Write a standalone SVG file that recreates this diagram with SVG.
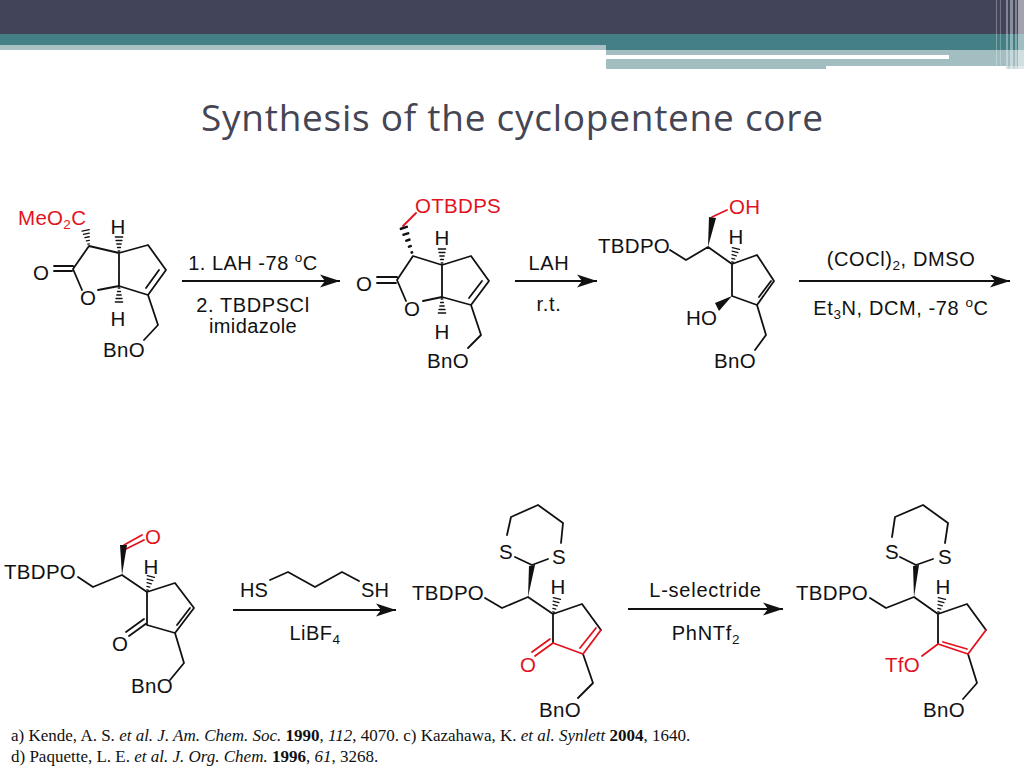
<svg xmlns="http://www.w3.org/2000/svg" xmlns:xlink="http://www.w3.org/1999/xlink" width="1024" height="768" viewBox="0 0 1024 768">
<style>
.b{fill:none;stroke:#111;stroke-width:1.8;stroke-linecap:round;stroke-linejoin:round}
.r{fill:none;stroke:#e2131f;stroke-width:1.8;stroke-linecap:round;stroke-linejoin:round}
.w{fill:#111;stroke:none}
.a{fill:none;stroke:#111;stroke-width:1.8}
.t{font-family:"Liberation Sans",Arial,sans-serif;font-size:20.5px;letter-spacing:.3px;fill:#111}
.g{font-family:"Liberation Sans",Arial,sans-serif;font-size:20px;fill:#111;text-anchor:middle}
.rt{fill:#e2131f}
.m{text-anchor:middle}
.ref{font-family:"Liberation Serif","Times New Roman",serif;font-size:17px;fill:#111}
.title{font-family:"Open Sans","Noto Sans",sans-serif;font-size:37px;fill:#454553}
</style>
<defs>
<g id="hash" class="b" style="stroke-width:1.3">
<path d="M2 -.8V.8M5.500 -1.500V1.500M9 -2.200V2.200M12.500 -3V3M16 -3.700V3.700"/>
</g>
<marker id="ah" markerUnits="userSpaceOnUse" markerWidth="21" markerHeight="14" refX="20" refY="7" orient="auto"><path d="M0 0.500L20 7L0 13.500L5 7Z" fill="#111"/></marker>
</defs>

<g id="header">
<rect x="0" y="0" width="1024" height="34" fill="#42445a"/>
<rect x="0" y="34" width="1024" height="11" fill="#437f85"/>
<rect x="606" y="45" width="418" height="5" fill="#437f85"/>
<rect x="0" y="45" width="606" height="5" fill="#a9c1c4"/>
<rect x="606" y="50" width="418" height="16" fill="#a3bec1"/>
<rect x="606" y="66" width="220" height="3" fill="#a3bec1"/>
<rect x="606" y="55" width="343" height="4" fill="#fff"/>
<rect x="1006" y="66" width="18" height="3" fill="#c5d6d8"/>
<g fill="#fff">
<rect x="996" y="0" width="1" height="66" opacity=".3"/>
<rect x="1000" y="0" width="1" height="66" opacity=".25"/>
<rect x="1006" y="0" width="2" height="69" opacity=".35"/>
<rect x="1010" y="0" width="3" height="69" opacity=".4"/>
<rect x="1015" y="0" width="2" height="69" opacity=".35"/>
<rect x="1018" y="0" width="6" height="69" opacity=".5"/>
</g>
</g>

<text id="title" class="title" x="201" y="131" textLength="622" lengthAdjust="spacing">Synthesis of the cyclopentene core</text>

<g id="connectors">
<line id="arrow-1" class="a" x1="182" y1="281" x2="340" y2="281" marker-end="url(#ah)"/>
<line id="arrow-2" class="a" x1="515" y1="281" x2="597" y2="281" marker-end="url(#ah)"/>
<line id="arrow-3" class="a" x1="799" y1="281" x2="1010" y2="281" marker-end="url(#ah)"/>
<line id="arrow-4" class="a" x1="233" y1="610" x2="396" y2="610" marker-end="url(#ah)"/>
<line id="arrow-5" class="a" x1="628" y1="609" x2="783" y2="609" marker-end="url(#ah)"/>
</g>

<g id="compound-1">
<path class="b" d="M82 290L73 269L89 246L119 253L148 245L166 270L148 295L119 286L98 290M119 253V286M148 295L158 325L144 340M146 288L159 270M73 266H54M72 271H54"/>
<use xlink:href="#hash" href="#hash" transform="translate(89 246) rotate(-102)"/>
<use xlink:href="#hash" href="#hash" transform="translate(119 253) rotate(-90)"/>
<use xlink:href="#hash" href="#hash" transform="translate(119 286) rotate(90)"/>
<text class="t rt" x="18" y="225">MeO<tspan font-size="13.500" dy="4">2</tspan><tspan dy="-4">C</tspan></text>
<text class="t m" x="118" y="234">H</text>
<text class="t m" x="118" y="326">H</text>
<text class="t m" x="41" y="280">O</text>
<text class="t m" x="88" y="305">O</text>
<text class="t" x="103" y="357">BnO</text>
</g>

<g id="reagents-1">
<text class="g" x="253" y="270" letter-spacing=".5">1. LAH -78 <tspan font-size="13.500" dy="-8">o</tspan><tspan dy="8">C</tspan></text>
<text class="g" x="253" y="312" letter-spacing=".6">2. TBDPSCl</text>
<text class="g" x="253" y="333" letter-spacing=".4">imidazole</text>
</g>

<g id="compound-2">
<path class="b" d="M406 301L397 280L413 256L442 265L471 256L489 281L471 305L442 297L423 301M442 265V297M471 305L481 335L468 348M469 298L482 281M397 277H377M396 283H377"/>
<path class="r" d="M403 226L416 213"/>
<use xlink:href="#hash" href="#hash" transform="translate(413 256) rotate(-108) scale(1.850 1)"/>
<use xlink:href="#hash" href="#hash" transform="translate(442 265) rotate(-90)"/>
<use xlink:href="#hash" href="#hash" transform="translate(442 297) rotate(90)"/>
<text class="t rt" x="415" y="213" letter-spacing=".5">OTBDPS</text>
<text class="t m" x="442" y="245">H</text>
<text class="t m" x="442" y="339">H</text>
<text class="t m" x="364" y="291">O</text>
<text class="t m" x="412" y="316">O</text>
<text class="t" x="427" y="368">BnO</text>
</g>

<g id="reagents-2">
<text class="g" x="549" y="270" letter-spacing=".7">LAH</text>
<text class="g" x="549" y="311" letter-spacing=".7">r.t.</text>
</g>

<g id="compound-3">
<path class="b" d="M670 250L686 260L708 247L732 264L757 255L774 281L757 305L732 296L732 264M757 305L766 335L755 350M759 297L771 281"/>
<path class="r" d="M712 217L727 210"/>
<polygon class="w" points="708,247 709,217 716,218"/>
<polygon class="w" points="732,296 715,303 719,311"/>
<use xlink:href="#hash" href="#hash" transform="translate(732 264) rotate(-76)"/>
<text class="t rt" x="729" y="214">OH</text>
<text class="t" x="598" y="253">TBDPO</text>
<text class="t m" x="736" y="244">H</text>
<text class="t" x="686" y="325">HO</text>
<text class="t" x="714" y="368">BnO</text>
</g>

<g id="reagents-3">
<text class="g" x="901" y="266" letter-spacing=".6">(COCl)<tspan font-size="13.500" dy="4">2</tspan><tspan dy="-4">, DMSO</tspan></text>
<text class="g" x="901" y="315" letter-spacing=".6">Et<tspan font-size="13.500" dy="4">3</tspan><tspan dy="-4">N, DCM, -78 </tspan><tspan font-size="13.500" dy="-8">o</tspan><tspan dy="8">C</tspan></text>
</g>

<g id="compound-4">
<path class="b" d="M78 577L93 587L122 575L147 592L175 583L194 608L175 633L147 625L147 592M175 633L184 663L170 680M177 625L190 608M147 623L129 636M144 619L126 632"/>
<path class="r" d="M124 545L142 535M126 549L144 540"/>
<polygon class="w" points="122,575 120,545 127,545"/>
<use xlink:href="#hash" href="#hash" transform="translate(147 592) rotate(-76)"/>
<text class="t" x="4" y="579">TBDPO</text>
<text class="t m rt" x="153" y="544">O</text>
<text class="t m" x="151" y="574">H</text>
<text class="t m" x="120" y="651">O</text>
<text class="t" x="131" y="693">BnO</text>
</g>

<g id="reagents-4">
<path class="b" d="M270 580L288 572L315 587L342 572L359 581"/>
<text class="g" x="254" y="597">HS</text>
<text class="g" x="375" y="597">SH</text>
<text class="g" x="315" y="640" letter-spacing=".5">LiBF<tspan font-size="13.500" dy="4">4</tspan></text>
</g>

<g id="compound-5">
<path class="b" d="M507 535L511 517L538 505L563 523L561 543M515 557L532 565L548 559M485 598L502 608L528 597L553 614L582 604L601 630M553 614L553 643M583 654L593 683L578 698"/>
<path class="r" d="M553 643L583 654L601 630M580 648L596 628M553 643L535 656M550 639L532 652"/>
<polygon class="w" points="528,597 529,566 535,565"/>
<use xlink:href="#hash" href="#hash" transform="translate(553 614) rotate(-76)"/>
<text class="t m" x="506" y="559">S</text>
<text class="t m" x="559" y="564">S</text>
<text class="t" x="412" y="600">TBDPO</text>
<text class="t m" x="558" y="594">H</text>
<text class="t m rt" x="528" y="672">O</text>
<text class="t" x="539" y="717">BnO</text>
</g>

<g id="reagents-5">
<text class="g" x="705.500" y="597" letter-spacing=".75">L-selectride</text>
<text class="g" x="706" y="640" letter-spacing=".7">PhNTf<tspan font-size="13.500" dy="4">2</tspan></text>
</g>

<g id="compound-6">
<path class="b" d="M892 537L895 517L923 505L948 523L945 543M900 557L916 565L933 559M870 598L886 608L914 597L938 614L967 604L986 630M938 614L938 644M968 654L977 683L963 699"/>
<path class="r" d="M986 630L968 654L938 644L922 656M943 642L967 649"/>
<polygon class="w" points="914,597 913,566 919,565"/>
<use xlink:href="#hash" href="#hash" transform="translate(938 614) rotate(-76)"/>
<text class="t m" x="892" y="559">S</text>
<text class="t m" x="945" y="564">S</text>
<text class="t" x="796" y="600">TBDPO</text>
<text class="t m" x="943" y="594">H</text>
<text class="t rt" x="885" y="672">TfO</text>
<text class="t" x="923" y="717">BnO</text>
</g>

<g id="references">
<text class="ref" x="11" y="741">a) Kende, A. S. <tspan font-style="italic">et al. J. Am. Chem. Soc.</tspan> <tspan font-weight="bold">1990</tspan>, <tspan font-style="italic">112</tspan>, 4070. c) Kazahawa, K. <tspan font-style="italic">et al. Synlett</tspan> <tspan font-weight="bold">2004</tspan>, 1640.</text>
<text class="ref" x="11" y="762">d) Paquette, L. E. <tspan font-style="italic">et al. J. Org. Chem.</tspan> <tspan font-weight="bold">1996</tspan>, <tspan font-style="italic">61</tspan>, 3268.</text>
</g>
</svg>
